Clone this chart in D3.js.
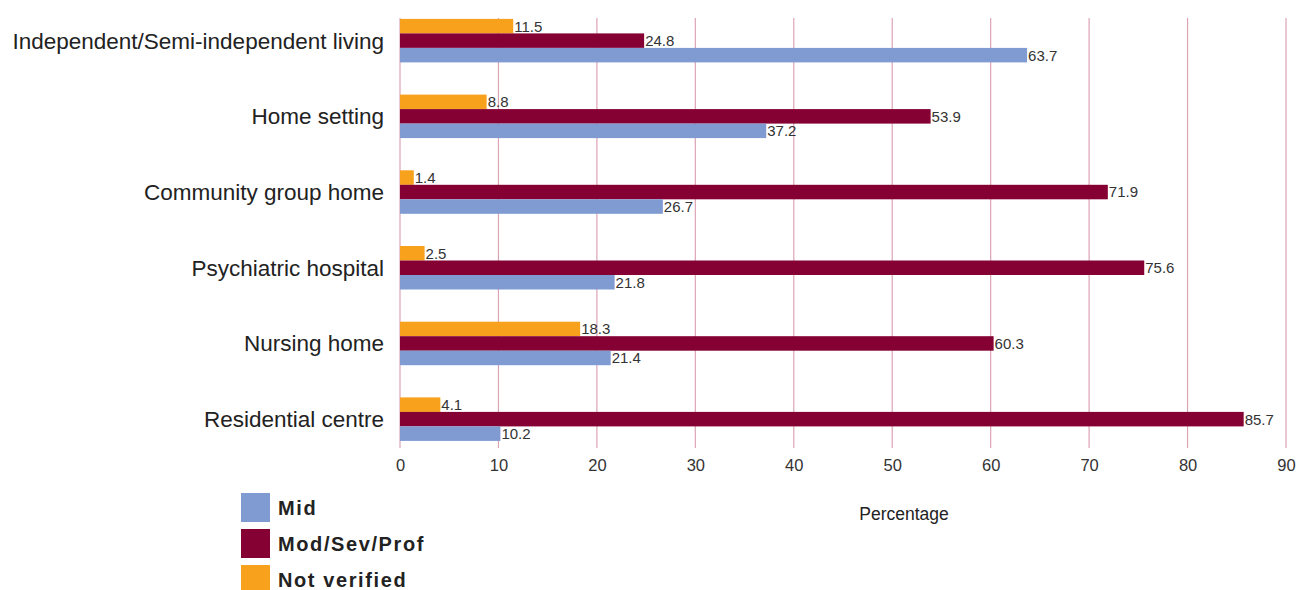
<!DOCTYPE html>
<html><head><meta charset="utf-8">
<script src="https://cdn.jsdelivr.net/npm/d3@7"></script>
<style>body{margin:0;background:#fff}svg{display:block}text{font-family:"Liberation Sans",Arial,sans-serif}</style>
</head><body><svg id="c" width="1298" height="590"></svg>
<script>
const categories = ["Independent/Semi-independent living","Home setting","Community group home","Psychiatric hospital","Nursing home","Residential centre"];
const seriesNames = ["Not verified","Mod/Sev/Prof","Mid"];
const notVerified = [11.5, 8.8, 1.4, 2.5, 18.3, 4.1];
const modSevProf = [24.8, 53.9, 71.9, 75.6, 60.3, 85.7];
const mid = [63.7, 37.2, 26.7, 21.8, 21.4, 10.2];
const xTicks = [0,10,20,30,40,50,60,70,80,90];
const legendNames = ["Mid","Mod/Sev/Prof","Not verified"];
const colors = {"Mid":"#7f9bd1","Mod/Sev/Prof":"#850033","Not verified":"#f7a11c"};
const values = {"Not verified":notVerified,"Mod/Sev/Prof":modSevProf,"Mid":mid};

const svg = d3.select("#c");
const x = d3.scaleLinear().domain([0,90]).range([400,1286]);
const y = d3.scaleBand().domain(categories).range([2.8,457]).paddingInner(0).paddingOuter(0);
const inner = d3.scaleBand().domain(seriesNames).range([0,43.5]);
const gridTop = 18, gridBot = 448;

// gridlines
svg.append("g").selectAll("line").data(xTicks).join("line")
  .attr("x1",d=>x(d)).attr("x2",d=>x(d)).attr("y1",gridTop).attr("y2",gridBot)
  .attr("stroke","#dca3b3").attr("stroke-width",1.2);

// bars
const groups = svg.append("g").selectAll("g").data(categories).join("g")
  .attr("transform",d=>`translate(0,${y(d)+y.bandwidth()/2-21.75})`);
seriesNames.forEach(s=>{
  groups.append("rect")
    .attr("x",x(0)).attr("y",inner(s))
    .attr("width",(d,i)=>x(values[s][i])-x(0))
    .attr("height",inner.bandwidth())
    .attr("fill",colors[s]);
  groups.append("text")
    .attr("x",(d,i)=>x(values[s][i])+1).attr("y",inner(s)+inner.bandwidth()/2)
    .attr("dy","0.36em").attr("font-size",15).attr("fill","#333")
    .text((d,i)=>values[s][i].toFixed(1));
});

// category labels
svg.append("g").selectAll("text").data(categories).join("text")
  .attr("x",384).attr("y",d=>y(d)+y.bandwidth()/2).attr("dy","0.35em")
  .attr("text-anchor","end").attr("font-size",22.5).attr("fill","#222").text(d=>d);

// x axis
const ax = svg.append("g").attr("transform",`translate(0,${gridBot})`)
  .call(d3.axisBottom(x).tickValues(xTicks).tickSize(0).tickPadding(11).tickFormat(d3.format("d")));
ax.select(".domain").remove();
ax.selectAll("text").attr("font-size",16.5).attr("fill","#333").style("font-family","'Liberation Sans',Arial,sans-serif");

svg.append("text").attr("x",904).attr("y",520).attr("text-anchor","middle")
  .attr("font-size",17.5).attr("fill","#222").text("Percentage");

// legend
const lg = svg.append("g").selectAll("g").data(legendNames).join("g")
  .attr("transform",(d,i)=>`translate(241,${493+i*36})`);
lg.append("rect").attr("width",29).attr("height",29).attr("fill",d=>colors[d]);
lg.append("text").attr("x",37).attr("y",14.5).attr("dy","0.36em")
  .attr("font-size",20).attr("font-weight","bold").attr("letter-spacing",1.6).attr("fill","#222").text(d=>d);
</script></body></html>
